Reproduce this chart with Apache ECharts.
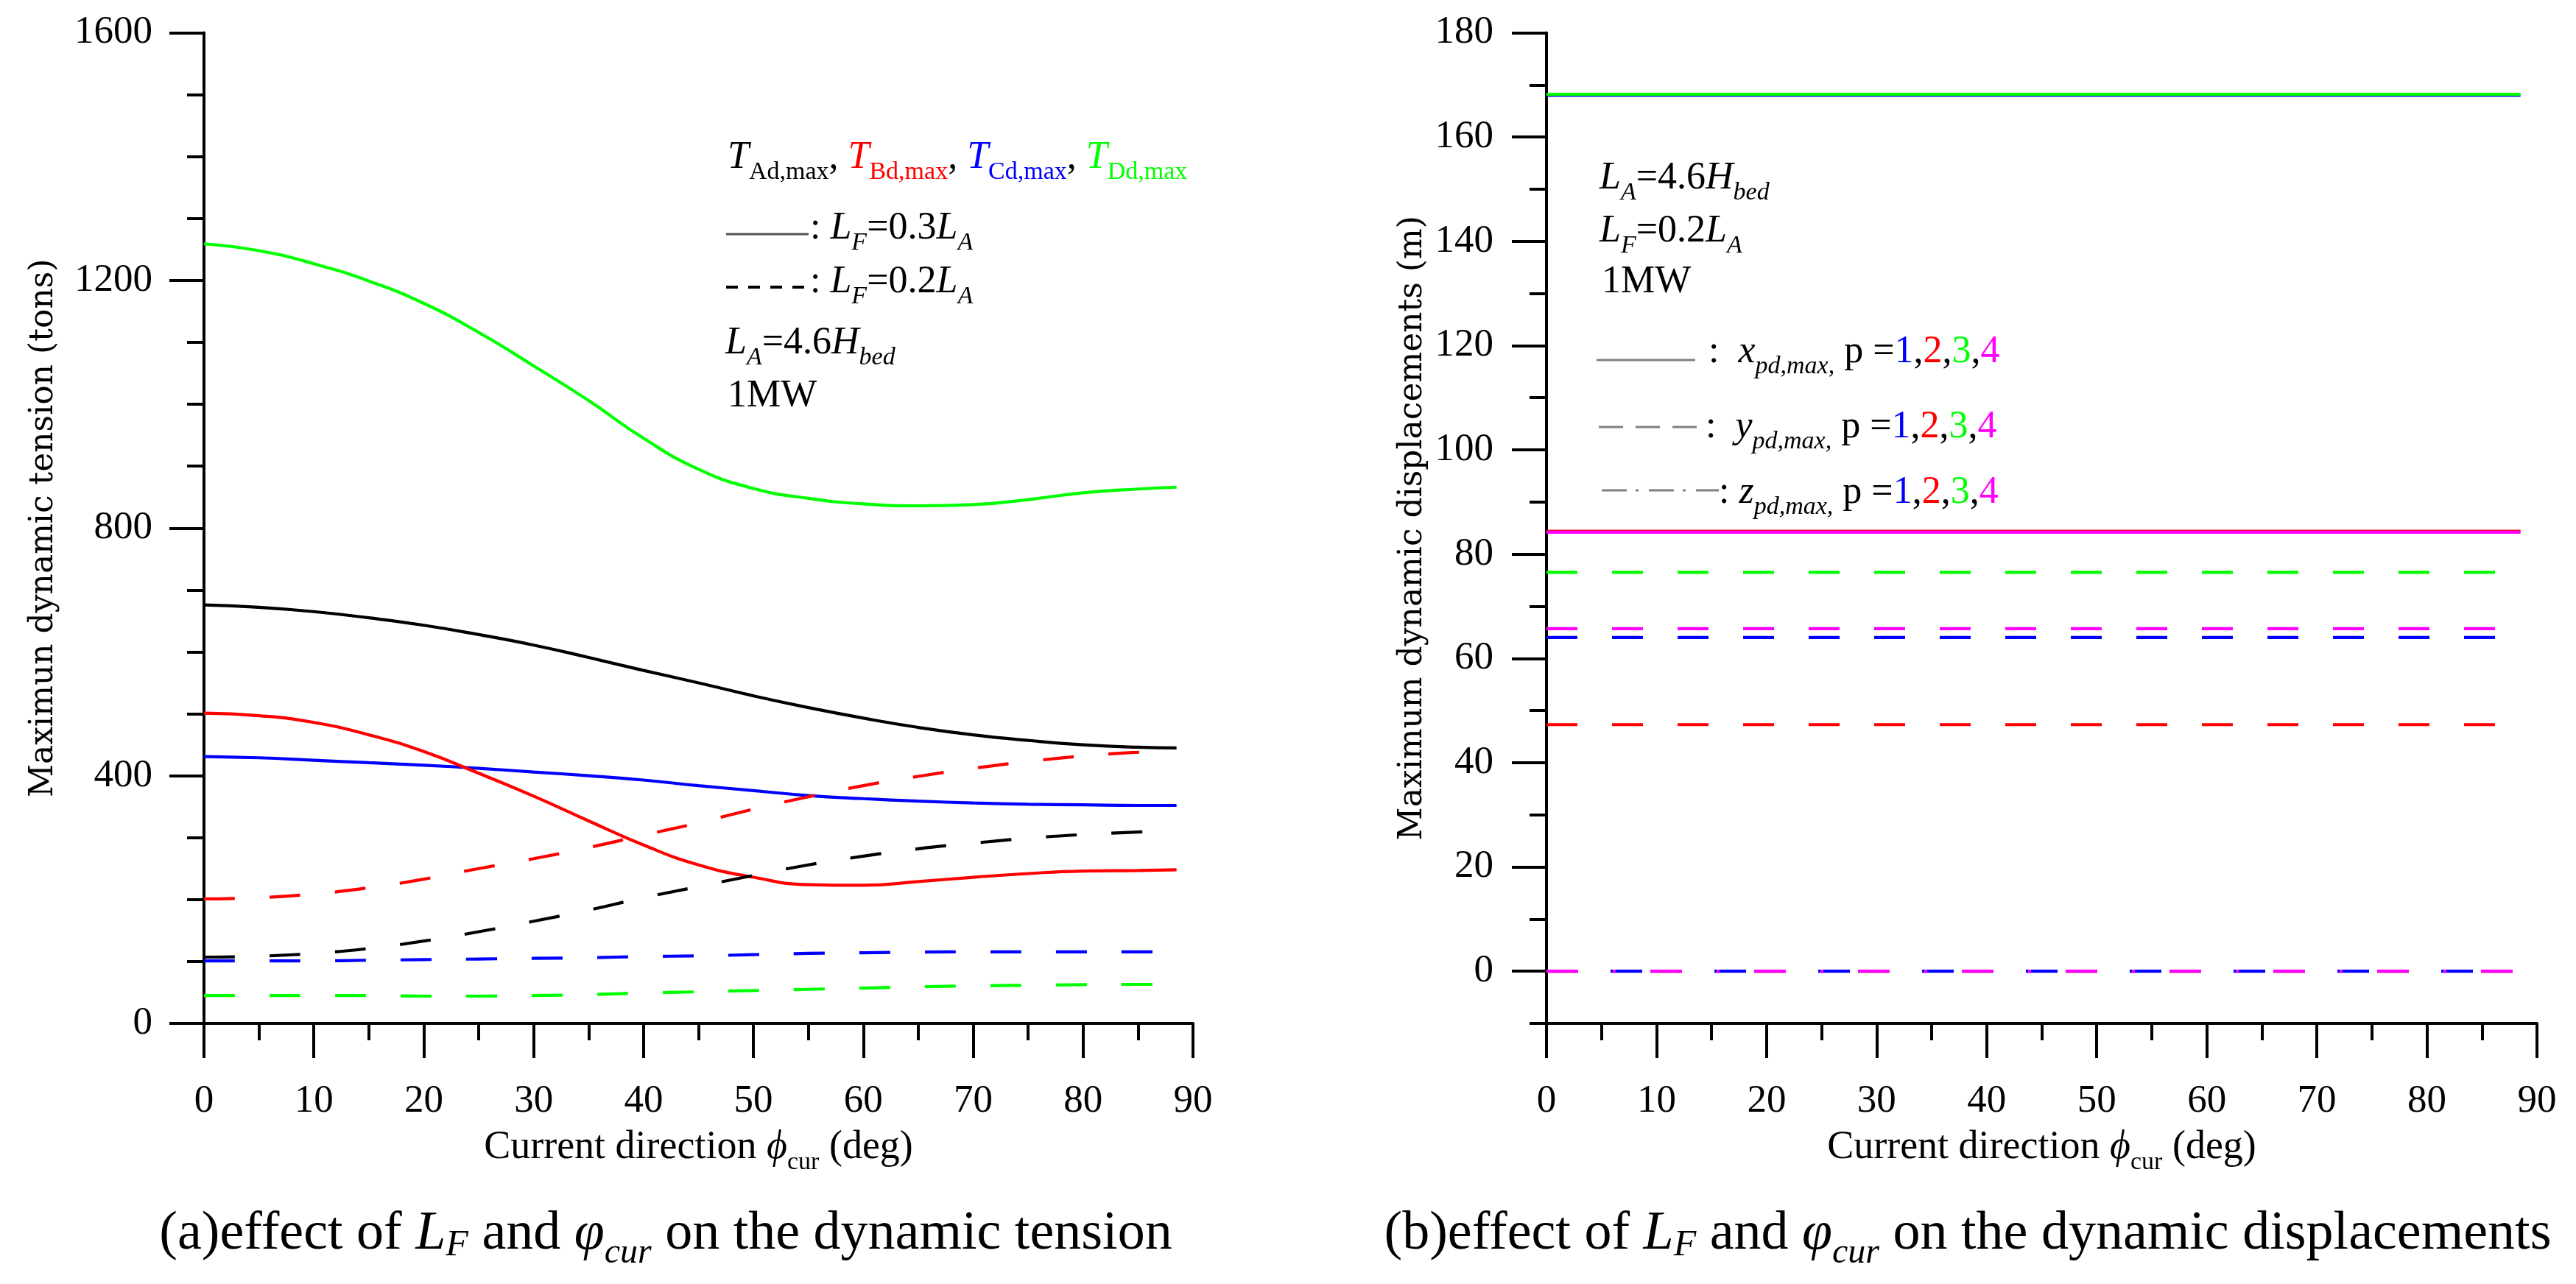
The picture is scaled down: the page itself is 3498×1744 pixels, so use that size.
<!DOCTYPE html>
<html>
<head>
<meta charset="utf-8">
<script src="https://cdn.jsdelivr.net/npm/echarts@6/dist/echarts.min.js"></script>
<style>
html,body{margin:0;padding:0;background:#fff;}
#chart{width:3498px;height:1744px;}
</style>
</head>
<body>
<div id="chart"></div>
<script>
// ---------- Data ----------
// (a) dynamic tension, tons; x = current direction (deg)
const degSolid = [0, 5, 10, 15, 20, 25, 30, 35, 40, 45, 50, 55, 60, 65, 70, 75, 80, 85, 88.5];
const tA03 = [676, 672, 665, 655, 643, 628, 611, 591, 570, 550, 529, 510, 493, 478, 466, 457, 450, 446, 445];
const tB03 = [501, 497, 486, 466, 439, 404, 367, 327, 288, 256, 236, 224, 223, 229, 236, 242, 246, 247, 248];
const tC03 = [431, 429, 425, 421, 417, 412, 406, 400, 393, 384, 376, 368, 363, 359, 356, 354, 353, 352, 352];
const tD03 = [1259, 1248, 1227, 1199, 1163, 1116, 1062, 1006, 945, 895, 864, 848, 839, 836, 838, 846, 857, 863, 866];

const degDash = [0, 5, 10, 15, 20, 25, 30, 35, 40, 45, 50, 55, 60, 65, 70, 75, 80, 85, 87];
const tA02 = [107, 108.5, 113, 121, 133, 148, 165, 183, 203, 221, 239, 256, 270, 282, 291, 299, 305, 309, 310];
const tB02 = [201, 203, 209, 219, 233, 250, 266, 284, 304, 324, 346, 366, 384, 399, 412, 423, 432, 438, 440];
const tC02 = [101, 101, 101, 102, 103, 104, 105, 106, 108, 109, 111, 113, 114, 115, 115.5, 115.5, 115.5, 115.5, 115.5];
const tD02 = [45, 45, 45, 45, 44, 44, 45, 46.5, 49, 51, 53, 55, 57, 59, 60.5, 61.5, 62.5, 63, 63];

// (b) dynamic displacements, m; p = 1,2,3,4
const degX = [0, 88.5];
const xP1 = [168.0, 168.0];
const xP2 = [84.4, 84.4];
const xP3 = [168.2, 168.2];
const xP4 = [84.2, 84.2];
const degY = [0, 87];
const yP1 = [64.0, 64.0];
const yP2 = [47.3, 47.3];
const yP3 = [76.5, 76.5];
const yP4 = [65.7, 65.7];
const degZ = [0, 88];
const zP1 = [0, 0];
const zP2 = [0, 0];
const zP3 = [0, 0];
const zP4 = [0, 0];

// ---------- Styling ----------
const FONT = 'Liberation Serif';
const YFONT = 'DejaVu Serif';
const BLACK = '#000000', RED = '#FF0000', BLUE = '#0000FF', GREEN = '#00FF00', MAG = '#FF00FF';
const LW = 4.2;
const AW = 4;
const DASH = [42, 47];
const DASHDOT = [43, 47, 4, 47];

function pairs(xs, ys) { return xs.map((x, i) => [x, ys[i]]); }
function plain(v) { return String(v); }

const xNameRich = {
  n: {fontFamily: FONT, fontSize: 54, lineHeight: 74, color: BLACK},
  i: {fontFamily: FONT, fontSize: 54, lineHeight: 74, fontStyle: 'italic', color: BLACK},
  s: {fontFamily: FONT, fontSize: 34, lineHeight: 34, padding: [40, 0, 0, 0], color: BLACK}
};

function xAxisDef(gi, visible) {
  return {
    gridIndex: gi, type: 'value', min: 0, max: 90, interval: 10, show: visible,
    axisLine: {show: true, onZero: false, lineStyle: {color: BLACK, width: AW}},
    axisTick: {show: true, inside: false, length: 47, lineStyle: {color: BLACK, width: AW}},
    minorTick: {show: true, splitNumber: 2, length: 23, lineStyle: {color: BLACK, width: AW}},
    splitLine: {show: false}, minorSplitLine: {show: false},
    axisLabel: {fontFamily: FONT, fontSize: 53, color: BLACK, margin: 80, formatter: plain},
    name: visible ? '{n|Current direction }{i|ϕ}{s|cur}{n| (deg)}' : '',
    nameLocation: 'middle', nameGap: 132, nameMoveOverlap: false,
    nameTextStyle: {fontFamily: FONT, fontSize: 54, color: BLACK, rich: xNameRich}
  };
}

function line(name, xi, yi, xs, ys, color, type, smooth, offset) {
  return {
    name: name, type: 'line', xAxisIndex: xi, yAxisIndex: yi,
    data: pairs(xs, ys), showSymbol: false, symbol: 'none', smooth: smooth ? 0.5 : false,
    lineStyle: {color: color, width: LW, type: type, cap: 'butt', dashOffset: offset || 0},
    itemStyle: {color: color}, silent: true, z: 3
  };
}

// rich styles for annotation texts (zrender style names)
function sty(size, extra) { return Object.assign({fontFamily: FONT, fontSize: size, fill: BLACK}, extra || {}); }
const LH = 74;
const annRich = {
  n: sty(52, {lineHeight: LH}),
  i: sty(52, {lineHeight: LH, fontStyle: 'italic'}),
  si: sty(34, {lineHeight: 34, fontStyle: 'italic', padding: [40, 0, 0, 0]}),
  TA: sty(52, {lineHeight: LH, fontStyle: 'italic', fill: BLACK}),
  TB: sty(52, {lineHeight: LH, fontStyle: 'italic', fill: RED}),
  TC: sty(52, {lineHeight: LH, fontStyle: 'italic', fill: BLUE}),
  TD: sty(52, {lineHeight: LH, fontStyle: 'italic', fill: GREEN}),
  sA: sty(34, {lineHeight: 34, fill: BLACK, padding: [40, 0, 0, 0]}),
  sB: sty(34, {lineHeight: 34, fill: RED, padding: [40, 0, 0, 0]}),
  sC: sty(34, {lineHeight: 34, fill: BLUE, padding: [40, 0, 0, 0]}),
  sD: sty(34, {lineHeight: 34, fill: GREEN, padding: [40, 0, 0, 0]}),
  b: sty(52, {lineHeight: LH, fill: BLUE}),
  r: sty(52, {lineHeight: LH, fill: RED}),
  g: sty(52, {lineHeight: LH, fill: GREEN}),
  m: sty(52, {lineHeight: LH, fill: MAG})
};
function ann(x, y, text, align) {
  return {type: 'text', x: x, y: y, silent: true, z: 10,
    style: {text: text, fontFamily: FONT, fontSize: 52, fill: BLACK, rich: annRich,
      align: align || 'left', verticalAlign: 'middle'}};
}
const capRich = {
  n: sty(74, {lineHeight: 100}),
  i: sty(74, {lineHeight: 100, fontStyle: 'italic'}),
  sF: sty(50, {lineHeight: 50, fontStyle: 'italic', padding: [30, 0, 0, 0]}),
  sc: sty(48, {lineHeight: 48, fontStyle: 'italic', padding: [50, 0, 0, 0]})
};
function cap(x, y, text) {
  return {type: 'text', x: x, y: y, silent: true, z: 10,
    style: {text: text, fontFamily: FONT, fontSize: 74, fill: BLACK, rich: capRich,
      align: 'center', verticalAlign: 'middle'}};
}
function seg(x1, y1, x2, y2, color, dash, w) {
  return {type: 'line', silent: true, z: 10, shape: {x1: x1, y1: y1, x2: x2, y2: y2},
    style: {stroke: color, lineWidth: w || 3, lineDash: dash || null}};
}

const option = {
  animation: false,
  backgroundColor: '#ffffff',
  textStyle: {fontFamily: FONT},
  grid: [
    {left: 277, top: 44.5, width: 1343, height: 1345.5, containLabel: false, outerBoundsMode: 'none'},
    {left: 2100, top: 44.5, width: 1345, height: 1345.5, containLabel: false, outerBoundsMode: 'none'},
    {left: 2100, top: 44.5, width: 1345, height: 1274.7, containLabel: false, outerBoundsMode: 'none'}
  ],
  xAxis: [xAxisDef(0, true), xAxisDef(1, true), xAxisDef(2, false)],
  yAxis: [
    {
      gridIndex: 0, type: 'value', min: 0, max: 1600, interval: 400,
      axisLine: {show: true, onZero: false, lineStyle: {color: BLACK, width: AW}},
      axisTick: {show: true, inside: false, length: 47, lineStyle: {color: BLACK, width: AW}},
      minorTick: {show: true, splitNumber: 4, length: 23, lineStyle: {color: BLACK, width: AW}},
      splitLine: {show: false}, minorSplitLine: {show: false},
      axisLabel: {fontFamily: FONT, fontSize: 53, color: BLACK, margin: 70, formatter: plain},
      name: 'Maximun dynamic tension (tons)', nameLocation: 'middle', nameGap: 195, nameMoveOverlap: false,
      nameTextStyle: {fontFamily: YFONT, fontSize: 44, color: BLACK}
    },
    {
      gridIndex: 1, type: 'value', min: -10, max: 180, interval: 10,
      axisLine: {show: true, onZero: false, lineStyle: {color: BLACK, width: AW}},
      axisTick: {show: true, inside: false, length: 23, lineStyle: {color: BLACK, width: AW}},
      splitLine: {show: false},
      axisLabel: {show: false},
      name: 'Maximum dynamic displacements (m)', nameLocation: 'middle', nameGap: 159, nameMoveOverlap: false,
      nameTextStyle: {fontFamily: YFONT, fontSize: 44, color: BLACK}
    },
    {
      gridIndex: 2, type: 'value', min: 0, max: 180, interval: 20,
      axisLine: {show: false, onZero: false},
      axisTick: {show: true, inside: false, length: 47, lineStyle: {color: BLACK, width: AW}},
      splitLine: {show: false},
      axisLabel: {fontFamily: FONT, fontSize: 53, color: BLACK, margin: 72, formatter: plain}
    }
  ],
  series: [
    // (a) L_F = 0.3 L_A (solid)
    line('T_Dd 0.3', 0, 0, degSolid, tD03, GREEN, 'solid', true),
    line('T_Ad 0.3', 0, 0, degSolid, tA03, BLACK, 'solid', true),
    line('T_Cd 0.3', 0, 0, degSolid, tC03, BLUE, 'solid', true),
    line('T_Bd 0.3', 0, 0, degSolid, tB03, RED, 'solid', true),
    // (a) L_F = 0.2 L_A (dashed)
    line('T_Bd 0.2', 0, 0, degDash, tB02, RED, DASH, true),
    line('T_Ad 0.2', 0, 0, degDash, tA02, BLACK, DASH, true),
    line('T_Cd 0.2', 0, 0, degDash, tC02, BLUE, DASH, true),
    line('T_Dd 0.2', 0, 0, degDash, tD02, GREEN, DASH, true),
    // (b) x_pd,max (solid)
    line('x p1', 1, 1, degX, xP1, BLUE, 'solid', false),
    line('x p3', 1, 1, degX, xP3, GREEN, 'solid', false),
    line('x p2', 1, 1, degX, xP2, RED, 'solid', false),
    line('x p4', 1, 1, degX, xP4, MAG, 'solid', false),
    // (b) y_pd,max (dashed)
    line('y p1', 1, 1, degY, yP1, BLUE, DASH, false),
    line('y p2', 1, 1, degY, yP2, RED, DASH, false),
    line('y p3', 1, 1, degY, yP3, GREEN, DASH, false),
    line('y p4', 1, 1, degY, yP4, MAG, DASH, false),
    // (b) z_pd,max (dash-dot)
    line('z p3', 1, 1, degZ, zP3, GREEN, DASHDOT, false),
    line('z p2', 1, 1, degZ, zP2, RED, DASHDOT, false),
    line('z p1', 1, 1, degZ, zP1, BLUE, DASHDOT, false, 54),
    line('z p4', 1, 1, degZ, zP4, MAG, DASHDOT, false)
  ],
  graphic: [
    // (a) annotations
    ann(988, 214, '{TA|T}{sA|Ad,max}{n|, }{TB|T}{sB|Bd,max}{n|, }{TC|T}{sC|Cd,max}{n|, }{TD|T}{sD|Dd,max}'),
    seg(986, 318, 1098, 318, '#555555', null, 3),
    ann(1100, 310, '{n|: }{i|L}{si|F}{n|=0.3}{i|L}{si|A}'),
    seg(986, 390, 1098, 390, BLACK, [16, 14], 4),
    ann(1100, 383, '{n|: }{i|L}{si|F}{n|=0.2}{i|L}{si|A}'),
    ann(985, 466, '{i|L}{si|A}{n|=4.6}{i|H}{si|bed}'),
    ann(988, 538, '{n|1MW}'),
    // (b) annotations
    ann(2172, 242, '{i|L}{si|A}{n|=4.6}{i|H}{si|bed}'),
    ann(2172, 314, '{i|L}{si|F}{n|=0.2}{i|L}{si|A}'),
    ann(2175, 383, '{n|1MW}'),
    seg(2168, 489, 2302, 489, '#808080', null, 3),
    ann(2320, 478, '{n|:  }{i|x}{si|pd,max,}{n| p =}{b|1}{n|,}{r|2}{n|,}{g|3}{n|,}{m|4}'),
    seg(2171, 580, 2306, 580, '#808080', [33, 17], 3),
    ann(2316, 580, '{n|:  }{i|y}{si|pd,max,}{n| p =}{b|1}{n|,}{r|2}{n|,}{g|3}{n|,}{m|4}'),
    seg(2175, 666, 2334, 666, '#808080', [34, 12, 4, 14], 3),
    ann(2334, 669, '{n|: }{i|z}{si|pd,max,}{n| p =}{b|1}{n|,}{r|2}{n|,}{g|3}{n|,}{m|4}'),
    // captions
    cap(904, 1677, '{n|(a)effect of }{i|L}{sF|F}{n| and }{i|φ}{sc|cur}{n| on the dynamic tension}'),
    cap(2672, 1677, '{n|(b)effect of }{i|L}{sF|F}{n| and }{i|φ}{sc|cur}{n| on the dynamic displacements}')
  ]
};

const chart = echarts.init(document.getElementById('chart'), null, {renderer: 'canvas', width: 3498, height: 1744});
chart.setOption(option);
</script>
</body>
</html>
